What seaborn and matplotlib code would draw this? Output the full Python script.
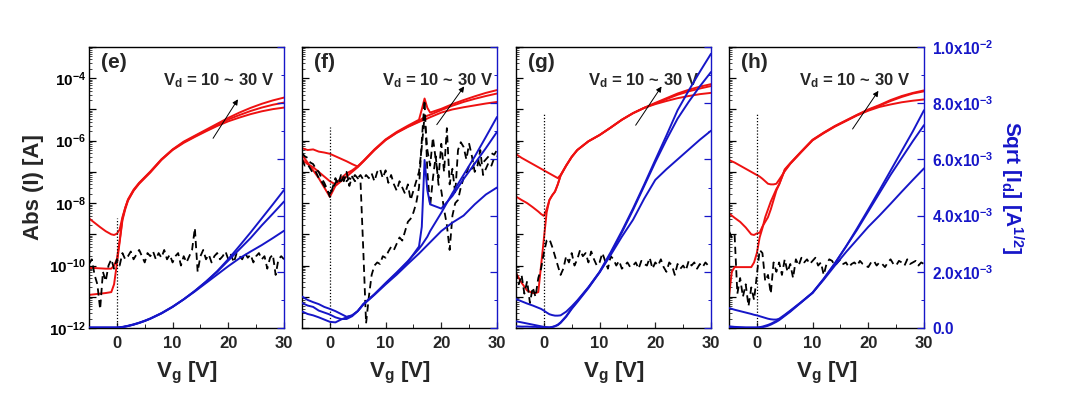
import numpy as np
import matplotlib
matplotlib.use("Agg")
import matplotlib.pyplot as plt
import seaborn as sns
from matplotlib.ticker import LogLocator, FixedLocator, FuncFormatter, NullFormatter

# ---------------- data ----------------
# drain current Id as log10(A); sqrt(Id) in units of 1e-3 A^1/2; gate current Ig as log10(A)
panel_labels = ["(e)", "(f)", "(g)", "(h)"]
vd_text = "V$_d$ = 10 ~ 30 V"

e_vg = [-5, -4, -3, -2, -1, -0.5, 0, 0.5, 1, 1.5, 2, 3, 4, 5, 6, 8, 10, 12, 14, 16, 18, 20, 22, 24, 26, 28, 30]
e_id_10 = [-8.49, -8.63, -8.77, -8.9, -9.0, -9.02, -8.98, -8.85, -8.45, -8.15, -7.9, -7.6, -7.38, -7.2, -7.02, -6.62, -6.3, -6.07, -5.88, -5.7, -5.53, -5.38, -5.26, -5.15, -5.06, -4.99, -4.94]
e_id_20 = [-10.08, -10.08, -10.09, -10.1, -10.1, -10.0, -9.8, -9.2, -8.5, -8.15, -7.88, -7.57, -7.35, -7.17, -6.99, -6.6, -6.29, -6.05, -5.86, -5.68, -5.5, -5.32, -5.18, -5.05, -4.94, -4.85, -4.78]
e_id_30 = [-10.94, -10.92, -10.9, -10.88, -10.85, -10.6, -9.95, -9.25, -8.55, -8.2, -7.92, -7.6, -7.36, -7.18, -7.0, -6.6, -6.28, -6.03, -5.84, -5.65, -5.46, -5.27, -5.1, -4.95, -4.82, -4.71, -4.62]
e_sq_30 = [0.01, 0.01, 0.01, 0.01, 0.01, 0.01, 0.01, 0.02, 0.03, 0.05, 0.07, 0.12, 0.18, 0.25, 0.33, 0.52, 0.75, 1.02, 1.32, 1.65, 2.02, 2.45, 2.92, 3.4, 3.9, 4.4, 4.91]
e_sq_20 = [0.01, 0.01, 0.01, 0.01, 0.01, 0.01, 0.01, 0.02, 0.03, 0.05, 0.07, 0.12, 0.18, 0.25, 0.33, 0.52, 0.75, 1.02, 1.32, 1.65, 2.0, 2.4, 2.8, 3.2, 3.65, 4.07, 4.5]
e_sq_10 = [0.02, 0.02, 0.02, 0.02, 0.02, 0.02, 0.02, 0.03, 0.04, 0.06, 0.08, 0.13, 0.19, 0.26, 0.34, 0.53, 0.76, 1.02, 1.3, 1.6, 1.9, 2.2, 2.48, 2.72, 2.95, 3.2, 3.46]
e_ig = [-9.95, -9.8, -10.3, -10.6, -11.4, -10.2, -10.5, -10.0, -9.8, -10.1,
        -9.8, -10.0, -9.6, -9.8, -9.7, -9.55, -9.8, -9.65, -9.5, -9.7,
        -9.9, -9.6, -9.7, -9.55, -9.8, -9.6, -9.75, -9.5, -9.8, -9.65,
        -9.9, -9.7, -9.6, -10.0, -9.7, -9.9, -9.7, -9.5, -8.8, -10.2,
        -9.7, -9.5, -9.8, -9.65, -9.9, -9.7, -9.6, -9.8, -9.7, -9.55,
        -9.8, -9.65, -9.9, -9.6, -9.7, -9.8, -9.6, -9.75, -9.65, -9.9,
        -9.7, -9.6, -9.8, -9.7, -10.1, -9.75, -9.65, -10.3, -9.8, -9.7,
        -9.8]

f_vg = [-5, -4, -3, -2, -1, 0, 1, 2, 3, 4, 5, 6, 8, 10, 12, 14, 16, 16.5, 17, 17.5, 18, 20, 22, 24, 26, 28, 30]
f_id_10 = [-6.24, -6.3, -6.28, -6.35, -6.38, -6.42, -6.5, -6.58, -6.66, -6.75, -6.83, -6.66, -6.3, -5.98, -5.75, -5.56, -5.4, -5.36, -5.33, -5.29, -5.25, -5.1, -5.0, -4.93, -4.87, -4.81, -4.76]
f_id_20 = [-6.45, -6.7, -6.95, -7.2, -7.5, -7.8, -7.45, -7.3, -7.15, -7.0, -6.85, -6.67, -6.3, -5.98, -5.74, -5.55, -5.38, -5.3, -5.25, -5.2, -5.17, -5.02, -4.88, -4.76, -4.66, -4.57, -4.49]
f_id_30 = [-6.6, -6.75, -6.85, -7.0, -7.15, -7.3, -7.4, -7.2, -7.05, -6.95, -6.82, -6.65, -6.28, -5.96, -5.72, -5.52, -5.33, -5.0, -4.65, -4.95, -5.1, -4.98, -4.83, -4.7, -4.58, -4.47, -4.38]
f_sq_30 = [1.12, 1.0, 0.92, 0.85, 0.75, 0.68, 0.6, 0.5, 0.4, 0.45, 0.6, 0.85, 1.2, 1.6, 1.98, 2.38, 2.82, 2.95, 3.1, 3.25, 3.45, 4.1, 4.8, 5.45, 6.1, 6.8, 7.51]
f_sq_20 = [0.89, 0.8, 0.75, 0.62, 0.55, 0.48, 0.38, 0.32, 0.32, 0.42, 0.6, 0.85, 1.2, 1.58, 1.95, 2.35, 2.9, 3.6, 5.98, 4.9, 4.4, 4.25, 4.7, 5.3, 5.85, 6.4, 6.98]
f_sq_10 = [0.59, 0.5, 0.45, 0.38, 0.3, 0.22, 0.2, 0.3, 0.38, 0.45, 0.6, 0.83, 1.18, 1.55, 1.9, 2.28, 2.65, 2.75, 2.85, 2.95, 3.05, 3.45, 3.75, 4.0, 4.4, 4.75, 5.0]
f_ig_a = [-6.4, -6.5, -6.55, -6.7, -6.75, -6.9, -7.0, -7.2, -7.35, -7.55,
          -7.8, -7.5, -7.2, -7.4, -7.1, -7.3, -7.0, -7.45, -7.15, -7.3,
          -7.2, -7.1, -7.25, -7.1, -7.2, -7.05, -7.3, -7.0, -6.9, -7.2,
          -6.95, -7.35, -7.1, -7.4, -7.6, -7.3, -7.5, -7.7, -7.4, -7.9,
          -7.6, -7.3, -7.0, -6.2, -5.2, -6.3, -6.8, -5.9, -6.6, -7.2,
          -6.1, -7.0, -5.6, -7.4, -6.9, -7.7, -6.3, -6.05, -6.2, -6.6,
          -6.1, -6.5, -7.0, -6.8, -6.3, -7.1, -6.9, -6.7, -6.8, -6.55,
          -6.5]
f_ig_b = [-6.6, -6.8, -6.75, -6.9, -7.05, -7.0, -7.2, -7.3, -7.45, -7.6,
          -7.7, -7.55, -7.35, -7.2, -7.3, -7.15, -7.3, -7.2, -7.25, -7.1,
          -7.2, -7.3, -9.5, -11.85, -11.0, -10.3, -10.0, -9.9, -9.95, -9.7,
          -9.75, -9.55, -9.4, -9.5, -9.3, -9.1, -9.2, -8.9, -8.6, -8.5,
          -8.3, -8.0, -7.5, -6.0, -4.7, -7.0, -8.1, -7.2, -6.5, -7.4,
          -7.6, -8.2, -8.7, -9.5, -8.4, -8.0, -7.9, -7.5, -7.2, -7.05,
          -6.8, -6.9, -6.7, -6.6, -6.8, -6.7, -6.6, -6.5, -6.4, -6.45,
          -6.3]

g_vg = [-5, -4, -3, -2, -1.5, -1, -0.5, 0, 0.5, 1, 1.5, 2, 2.5, 3, 4, 5, 6, 8, 10, 12, 14, 16, 18, 20, 22, 24, 26, 28, 30]
g_id_10 = [-6.43, -6.55, -6.65, -6.75, -6.8, -6.85, -6.9, -6.95, -7.0, -7.05, -7.1, -7.15, -7.2, -7.1, -6.8, -6.52, -6.3, -6.02, -5.82, -5.58, -5.33, -5.12, -4.95, -4.83, -4.73, -4.64, -4.57, -4.51, -4.47]
g_id_20 = [-7.79, -7.9, -8.0, -8.13, -8.2, -8.27, -8.35, -8.41, -8.2, -7.9, -7.75, -7.63, -7.4, -7.12, -6.8, -6.52, -6.3, -6.02, -5.82, -5.58, -5.33, -5.12, -4.95, -4.81, -4.67, -4.53, -4.42, -4.33, -4.25]
g_id_30 = [-10.24, -10.55, -10.8, -10.88, -10.88, -10.85, -10.0, -9.15, -8.3, -7.9, -7.75, -7.63, -7.4, -7.12, -6.8, -6.52, -6.3, -6.02, -5.82, -5.58, -5.33, -5.12, -4.95, -4.79, -4.64, -4.49, -4.37, -4.27, -4.19]
g_sq_30 = [1.03, 0.95, 0.87, 0.8, 0.76, 0.72, 0.68, 0.62, 0.55, 0.49, 0.46, 0.44, 0.44, 0.45, 0.58, 0.77, 0.98, 1.45, 2.0, 2.7, 3.45, 4.25, 5.1, 5.98, 6.85, 7.75, 8.45, 9.12, 9.76]
g_sq_20 = [0.24, 0.2, 0.16, 0.12, 0.1, 0.08, 0.06, 0.04, 0.03, 0.02, 0.03, 0.06, 0.1, 0.18, 0.4, 0.68, 0.92, 1.42, 1.98, 2.65, 3.4, 4.2, 5.05, 5.9, 6.7, 7.45, 8.05, 8.6, 9.11]
g_sq_10 = [0.06, 0.05, 0.05, 0.04, 0.04, 0.03, 0.03, 0.02, 0.02, 0.02, 0.04, 0.07, 0.12, 0.2, 0.42, 0.7, 0.95, 1.45, 1.98, 2.6, 3.25, 3.85, 4.6, 5.27, 5.65, 6.0, 6.35, 6.7, 7.02]
g_ig = [-10.2, -10.6, -10.3, -10.9, -10.5, -11.2, -10.7, -11.0, -10.4, -10.1,
        -9.6, -9.2, -9.15, -9.4, -9.7, -10.0, -10.3, -10.1, -9.7, -9.9,
        -9.6, -10.0, -9.8, -9.5, -9.7, -9.6, -9.9, -9.55, -9.8, -10.0,
        -9.9, -9.6, -9.85, -10.1, -9.7, -9.8, -10.0, -9.85, -10.1, -10.0,
        -9.9, -10.05, -10.0, -9.9, -10.1, -9.85, -9.95, -10.0, -9.75, -10.1,
        -9.9, -10.0, -9.8, -10.05, -10.2, -9.9, -10.0, -10.3, -9.95, -10.1,
        -10.0, -10.15, -9.85, -10.0, -9.9, -10.1, -9.95, -10.05, -9.9, -10.0,
        -9.95]

h_vg = [-5, -4.5, -4, -3, -2, -1, -0.5, 0, 0.5, 1, 1.5, 2, 2.5, 3, 3.5, 4, 5, 6, 8, 10, 12, 14, 16, 18, 20, 22, 24, 26, 28, 30]
h_id_10 = [-6.62, -6.66, -6.7, -6.8, -6.9, -7.0, -7.05, -7.1, -7.15, -7.22, -7.3, -7.38, -7.4, -7.4, -7.38, -7.25, -6.98, -6.74, -6.36, -5.99, -5.76, -5.55, -5.37, -5.19, -5.04, -4.92, -4.84, -4.77, -4.72, -4.68]
h_id_20 = [-8.33, -8.4, -8.47, -8.6, -8.78, -9.0, -9.02, -8.97, -8.95, -8.75, -8.6, -8.45, -8.2, -7.9, -7.6, -7.4, -6.95, -6.73, -6.35, -5.98, -5.75, -5.54, -5.36, -5.18, -5.02, -4.88, -4.73, -4.6, -4.49, -4.42]
h_id_30 = [-10.99, -10.2, -10.05, -10.05, -10.05, -10.05, -9.9, -9.6, -9.1, -8.8, -8.45, -8.2, -7.95, -7.75, -7.55, -7.4, -6.92, -6.72, -6.34, -5.97, -5.74, -5.53, -5.35, -5.17, -5.0, -4.86, -4.7, -4.57, -4.47, -4.39]
h_sq_30 = [0.71, 0.68, 0.65, 0.6, 0.55, 0.5, 0.47, 0.45, 0.42, 0.39, 0.36, 0.33, 0.31, 0.3, 0.3, 0.33, 0.47, 0.62, 0.93, 1.26, 1.75, 2.3, 2.9, 3.55, 4.22, 4.9, 5.6, 6.3, 7.0, 7.75]
h_sq_20 = [0.06, 0.05, 0.04, 0.03, 0.02, 0.02, 0.02, 0.02, 0.03, 0.05, 0.08, 0.11, 0.15, 0.2, 0.25, 0.3, 0.45, 0.6, 0.92, 1.25, 1.75, 2.3, 2.9, 3.5, 4.15, 4.8, 5.45, 6.05, 6.65, 7.22]
h_sq_10 = [0.01, 0.01, 0.01, 0.01, 0.01, 0.01, 0.01, 0.01, 0.02, 0.03, 0.05, 0.08, 0.12, 0.17, 0.22, 0.28, 0.43, 0.58, 0.92, 1.25, 1.72, 2.22, 2.7, 3.15, 3.6, 4.0, 4.42, 4.85, 5.27, 5.68]
h_ig = [-8.9, -9.1, -9.0, -10.9, -10.4, -11.0, -10.6, -11.3, -10.7, -11.1,
        -10.3, -9.5, -9.6, -10.5, -10.3, -10.9, -9.9, -10.2, -9.9, -10.3,
        -9.8, -10.2, -9.95, -10.4, -9.8, -10.0, -9.75, -9.9, -9.8, -9.95,
        -9.85, -9.75, -10.0, -9.9, -10.3, -9.95, -9.8, -9.85, -10.0, -9.9,
        -9.8, -9.95, -9.9, -10.05, -9.95, -9.9, -10.0, -9.85, -9.95, -10.0,
        -10.05, -9.9, -9.85, -10.0, -9.9, -9.95, -10.05, -9.9, -9.8, -9.95,
        -10.0, -9.85, -9.9, -10.0, -9.8, -9.95, -9.9, -9.85, -10.0, -9.9,
        -9.95]

# Vd arrow (Vg, log10 I) start -> end, and top of the dotted Vg = 0 guide (log10 I)
arrow_start = [(17.0, -6.0), (18.9, -5.56), (16.2, -5.58), (16.9, -5.7)]
arrow_end = [(22.0, -4.6), (24.4, -4.19), (21.4, -4.19), (22.1, -4.33)]
zero_line_top = [-8.49, -5.56, -5.13, -5.13]

panels = [
    (e_vg, [e_id_10, e_id_20, e_id_30], [e_sq_10, e_sq_20, e_sq_30], [e_ig]),
    (f_vg, [f_id_10, f_id_20, f_id_30], [f_sq_10, f_sq_20, f_sq_30], [f_ig_a, f_ig_b]),
    (g_vg, [g_id_10, g_id_20, g_id_30], [g_sq_10, g_sq_20, g_sq_30], [g_ig]),
    (h_vg, [h_id_10, h_id_20, h_id_30], [h_sq_10, h_sq_20, h_sq_30], [h_ig]),
]

# ---------------- style ----------------
sns.set_theme(style="ticks")
plt.rcParams["font.family"] = ["Liberation Sans", "DejaVu Sans"]
plt.rcParams["font.weight"] = "bold"
plt.rcParams["mathtext.fontset"] = "custom"
plt.rcParams["mathtext.rm"] = "Liberation Sans:bold"
plt.rcParams["mathtext.it"] = "Liberation Sans:bold"
plt.rcParams["mathtext.bf"] = "Liberation Sans:bold"
plt.rcParams["axes.linewidth"] = 1.0

RED = "#ee1111"
BLUE = "#1616c8"

fig = plt.figure(figsize=(10.73, 4.04), dpi=100)
W, H = 1073.0, 404.0
lefts = [89, 302, 516, 729]
pw, top_px, bot_px = 195, 47, 328


def log_fmt(v, pos):
    if v <= 0:
        return ""
    e = int(round(np.log10(v)))
    return f"$10^{{{e}}}$" if e % 2 == 0 else ""


def sq_fmt(v, pos):
    if abs(v) < 1e-9:
        return "0.0"
    e = int(np.floor(np.log10(v) + 1e-9))
    m = v / 10 ** e
    return f"{m:.1f}x10$^{{{e}}}$"


for i, (vg, reds, blues, igs) in enumerate(panels):
    ax = fig.add_axes([lefts[i] / W, (H - bot_px) / H, pw / W, (bot_px - top_px) / H])
    ax2 = ax.twinx()

    for r in reds:
        sns.lineplot(x=vg, y=10 ** np.array(r), ax=ax, color=RED, lw=1.4, estimator=None, sort=False)
    for ig in igs:
        sns.lineplot(x=np.linspace(-5, 30, len(ig)), y=10 ** np.array(ig), ax=ax, color="black",
                     lw=1.3, linestyle=(0, (4, 2.5)), estimator=None, sort=False)
    for b in blues:
        sns.lineplot(x=vg, y=np.array(b) * 1e-3, ax=ax2, color=BLUE, lw=1.4, estimator=None, sort=False)

    ax.vlines(0, 1e-12, 10 ** zero_line_top[i], colors="black", linestyles=(0, (1, 1.5)), lw=0.9)
    (x0, y0), (x1, y1) = arrow_start[i], arrow_end[i]
    ax.annotate("", xy=(x1, 10 ** y1), xytext=(x0, 10 ** y0),
                arrowprops=dict(arrowstyle="-|>", color="black", lw=0.7, mutation_scale=8))

    ax.set_yscale("log")
    ax.set_ylim(1e-12, 1e-3)
    ax.set_xlim(-5, 30)
    ax2.set_ylim(0, 0.01)

    ax.yaxis.set_major_locator(LogLocator(base=10, numticks=20))
    ax.yaxis.set_minor_locator(LogLocator(base=10, subs=np.arange(2, 10), numticks=20))
    ax.yaxis.set_major_formatter(FuncFormatter(log_fmt))
    ax.yaxis.set_minor_formatter(NullFormatter())
    ax.xaxis.set_major_locator(FixedLocator([0, 10, 20, 30]))
    ax.xaxis.set_minor_locator(FixedLocator([5, 15, 25]))
    ax2.yaxis.set_major_locator(FixedLocator([0, 0.002, 0.004, 0.006, 0.008, 0.01]))
    ax2.yaxis.set_minor_locator(FixedLocator([0.001, 0.003, 0.005, 0.007, 0.009]))
    ax2.yaxis.set_major_formatter(FuncFormatter(sq_fmt))

    ax.tick_params(axis="y", which="major", direction="in", length=5, width=0.9, left=True,
                   right=False, labelleft=(i == 0), labelsize=11, pad=2, colors="black")
    ax.tick_params(axis="y", which="minor", direction="in", length=2.5, width=0.6, left=True, right=False)
    ax.tick_params(axis="x", which="major", direction="in", length=4, width=0.9, bottom=True,
                   top=False, labelsize=12, pad=6)
    ax.tick_params(axis="x", which="minor", direction="in", length=3, width=0.7, bottom=True, top=False)
    ax2.tick_params(axis="y", which="major", direction="in", length=5, width=0.9, right=True,
                    labelright=(i == 3), labelsize=11.2, pad=6, colors=BLUE)
    ax2.tick_params(axis="y", which="minor", direction="in", length=2.5, width=0.7, right=True, colors=BLUE)

    for s in ["left", "top", "bottom"]:
        ax2.spines[s].set_visible(False)
    ax.spines["right"].set_visible(False)
    ax2.spines["right"].set_color(BLUE)
    for s in ["left", "top", "bottom"]:
        ax.spines[s].set_color("black")

    ax.set_xlabel("V$_g$ [V]", fontsize=16, fontweight="bold", labelpad=6)
    ax2.set_ylabel("")
    if i == 0:
        ax.set_ylabel("Abs (I) [A]", fontsize=16, fontweight="bold", labelpad=4)
    else:
        ax.set_ylabel("")
    if i == 3:
        ax2.set_ylabel("Sqrt [I$_d$] [A$^{1/2}$]", fontsize=15, fontweight="bold", color=BLUE,
                       rotation=270, va="bottom", labelpad=3)

    ax.text(0.06, 0.945, panel_labels[i], transform=ax.transAxes, fontsize=15,
            fontweight="bold", ha="left", va="center")
    ax.text([0.38, 0.41, 0.37, 0.36][i], 0.88, vd_text, transform=ax.transAxes, fontsize=12,
            fontweight="bold", ha="left", va="center")

fig.savefig("out.png", dpi=100)
